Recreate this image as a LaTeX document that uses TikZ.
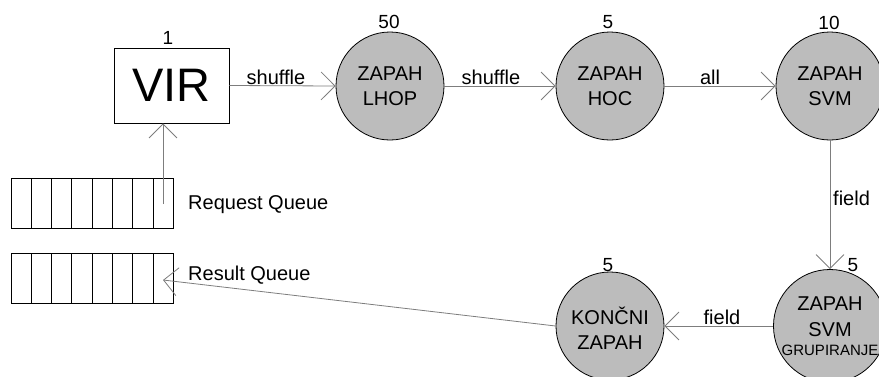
\documentclass[tikz,border=0pt]{standalone}
\usepackage{fontspec}
\setmainfont{Liberation Sans}
\usetikzlibrary{arrows.meta,calc}
\definecolor{circfill}{RGB}{188,188,188}
\definecolor{linegray}{RGB}{125,125,125}
\begin{document}
\begin{tikzpicture}[x=1pt,y=-1pt,
  proc/.style={circle, draw=black, line width=0.8pt, fill=circfill, minimum size=108pt,
    inner sep=0pt, align=center, font=\fontsize{20}{25}\selectfont},
  conn/.style={draw=linegray, line width=0.8pt,
    -{Straight Barb[length=14pt,width=28pt,line width=0.8pt]}},
  lbl/.style={font=\fontsize{20}{24}\selectfont, inner sep=0pt},
  num/.style={font=\fontsize{19}{22}\selectfont, inner sep=0pt},
  queue/.style={rectangle, draw=black, line width=0.8pt, minimum width=162pt,
    minimum height=50pt, inner sep=0pt},
  virbox/.style={rectangle, draw=black, line width=0.8pt, minimum width=115pt,
    minimum height=75pt, inner sep=0pt, font=\fontsize{47}{50}\selectfont}]
\useasboundingbox (0,0) rectangle (879,376);
\clip (0,0) rectangle (879,376);

% VIR box
\node[virbox] (vir) at (171.5,85.5) {VIR};
\node[num] (nvir) at (168,38) {1};

% circles
\node[proc] (lhop) at (390,86) {ZAPAH\\LHOP};
\node[proc] (hoc) at (610,86) {ZAPAH\\HOC};
\node[proc] (svm) at (830,86) {ZAPAH\\SVM};
\node[proc] (grup) at (830,326) {ZAPAH\\[1pt]SVM\\[-6pt]{\fontsize{15}{16}\selectfont GRUPIRANJE}};
\node[proc] (kon) at (610,326) {\rule{0pt}{22pt}KONČNI\\ZAPAH};

% numbers
\node[num] (nlhop) at (389,22) {50};
\node[num] (nhoc) at (608,22) {5};
\node[num] (nsvm) at (829,23) {10};
\node[num] (nkon) at (608,265) {5};
\node[num] (ngrup) at (853,265) {5};

% queues
\node[queue] (reqq) at (92,203.5) {};
\node[queue] (resq) at (92,278.5) {};
\foreach \i in {1,...,7} {
  \draw[line width=0.8pt] ($(reqq.north west)!\i/8!(reqq.north east)$) -- ($(reqq.south west)!\i/8!(reqq.south east)$);
  \draw[line width=0.8pt] ($(resq.north west)!\i/8!(resq.north east)$) -- ($(resq.south west)!\i/8!(resq.south east)$);
}
\node[lbl, anchor=west] (lreq) at (188,205) {Request Queue};
\node[lbl, anchor=west] (lres) at (188,275) {Result Queue};

% connectors
\coordinate (rqstart) at (163,204);
\coordinate (rstip) at (163,280);
\draw[conn] (rqstart) -- (rqstart |- vir.south);
\draw[conn] (vir.east) -- (lhop.west);
\draw[conn] (lhop) -- (hoc);
\draw[conn] (hoc) -- (svm);
\draw[conn] (svm) -- (grup);
\draw[conn] (grup) -- (kon);
\draw[conn] (kon.west) -- (rstip);

% connector labels
\node[lbl, anchor=south] (e1) at (276,85) {shuffle};
\node[lbl, anchor=south] (e2) at (491,85) {shuffle};
\node[lbl, anchor=south] (e3) at (710,85) {all};
\node[lbl, anchor=west] (e4) at (833,198) {field};
\node[lbl, anchor=south] (e5) at (722,325) {field};
\end{tikzpicture}
\end{document}
